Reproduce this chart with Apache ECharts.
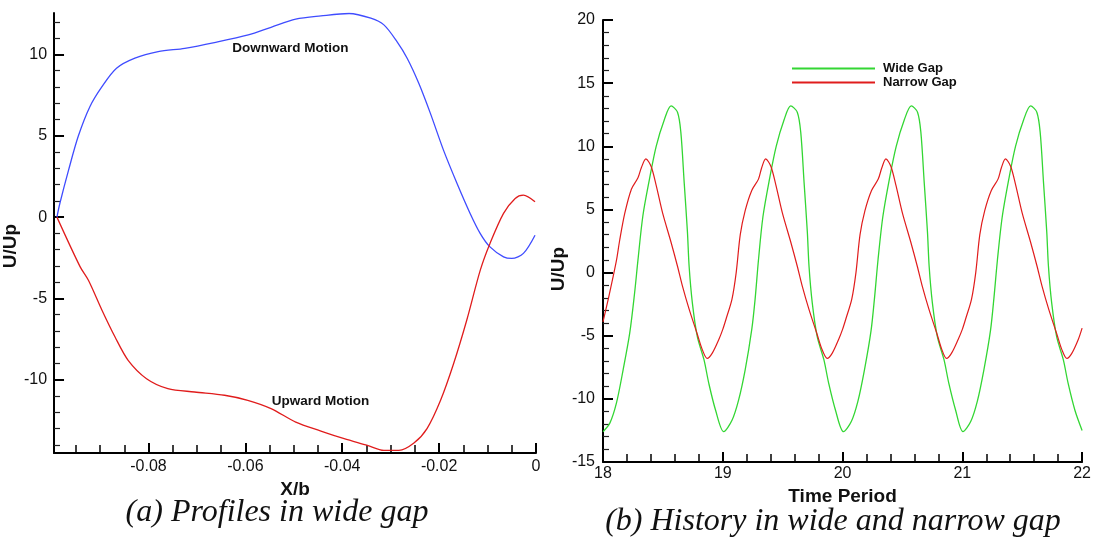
<!DOCTYPE html>
<html>
<head>
<meta charset="utf-8">
<script src="https://cdn.jsdelivr.net/npm/echarts@6/dist/echarts.min.js"></script>
<style>
  html, body { margin: 0; padding: 0; background: #ffffff; }
  #chart { width: 1094px; height: 538px; }
</style>
</head>
<body>
<div id="chart"></div>
<script>
// ---- (a) Profiles in wide gap: U/Up against X/b ----
const downwardMotion = [
  [-0.0989, 0], [-0.0983, 0.84], [-0.0965, 2.89], [-0.0945, 4.97], [-0.0921, 6.79],
  [-0.0896, 8.02], [-0.0866, 9.15], [-0.0828, 9.77], [-0.0780, 10.17], [-0.0725, 10.38],
  [-0.0664, 10.73], [-0.0594, 11.2], [-0.0547, 11.67], [-0.0496, 12.17], [-0.0444, 12.37],
  [-0.0386, 12.52], [-0.0341, 12.23], [-0.0314, 11.82], [-0.0287, 10.79], [-0.0266, 9.77],
  [-0.0242, 8.23], [-0.0218, 6.38], [-0.0191, 4.12], [-0.0163, 2.07], [-0.0136, 0.23],
  [-0.0115, -1.01], [-0.0095, -1.83], [-0.0067, -2.44], [-0.0050, -2.54], [-0.0026, -2.23],
  [-0.0002, -1.11]
];
const upwardMotion = [
  [-0.0989, 0], [-0.0941, -3.06], [-0.0924, -3.88], [-0.0896, -5.72], [-0.0869, -7.37],
  [-0.0842, -8.80], [-0.0804, -9.93], [-0.0760, -10.54], [-0.0705, -10.75], [-0.0643, -10.95],
  [-0.0595, -11.26], [-0.0547, -11.77], [-0.0496, -12.60], [-0.0444, -13.15], [-0.0396, -13.62],
  [-0.0348, -14.03], [-0.0314, -14.34], [-0.0283, -14.34], [-0.0252, -13.89], [-0.0225, -13.0],
  [-0.0197, -11.26], [-0.0170, -9.0], [-0.0143, -6.34], [-0.0115, -3.26], [-0.0095, -1.62],
  [-0.0067, 0.23], [-0.0043, 1.15], [-0.0026, 1.35], [-0.0002, 0.94]
];
const profileXRange = [-0.0995, 0];
const profileYRange = [-14.5, 12.55];
const profileXMajor = [-0.08, -0.06, -0.04, -0.02, 0];
const profileXMinor = [-0.095, -0.09, -0.085, -0.075, -0.07, -0.065, -0.055, -0.05, -0.045,
  -0.035, -0.03, -0.025, -0.015, -0.01, -0.005];
const profileYMajor = [-10, -5, 0, 5, 10];
const profileYMinor = [-14, -13, -12, -11, -9, -8, -7, -6, -4, -3, -2, -1, 1, 2, 3, 4,
  6, 7, 8, 9, 11, 12];
const profileNotes = [
  { text: 'Downward Motion', at: [-0.0507, 10.4] },
  { text: 'Upward Motion', at: [-0.0445, -11.32] }
];

// ---- (b) History in wide and narrow gap: U/Up against time period ----
const wideGap = [
  [18.000, -12.6], [18.058, -11.9], [18.113, -10.3], [18.168, -7.7], [18.223, -4.8],
  [18.264, -1.6], [18.292, 1.0], [18.333, 4.5], [18.388, 7.4], [18.444, 10.0],
  [18.512, 12.1], [18.568, 13.2], [18.622, 12.7], [18.650, 11.1], [18.678, 7.1],
  [18.705, 3.2], [18.719, 0.5], [18.746, -2.4], [18.788, -5.1], [18.843, -6.9],
  [18.884, -8.8], [18.940, -10.9],
  [19.008, -12.6], [19.077, -11.7], [19.132, -10.1], [19.187, -7.7], [19.242, -4.5],
  [19.270, -2.1], [19.298, 1.0], [19.335, 4.4], [19.390, 7.4], [19.446, 10.0],
  [19.512, 12.1], [19.567, 13.2], [19.622, 12.7], [19.651, 11.1], [19.679, 7.1],
  [19.706, 3.2], [19.720, 0.5], [19.747, -2.4], [19.789, -5.1], [19.844, -6.9],
  [19.885, -8.8], [19.941, -10.9],
  [20.008, -12.6], [20.073, -11.8], [20.128, -10.2], [20.183, -7.7], [20.238, -4.6],
  [20.268, -1.9], [20.296, 1.0], [20.336, 4.4], [20.391, 7.4], [20.448, 10.0],
  [20.516, 12.1], [20.574, 13.2], [20.626, 12.7], [20.654, 11.1], [20.682, 7.1],
  [20.709, 3.2], [20.723, 0.5], [20.750, -2.4], [20.792, -5.1], [20.847, -6.9],
  [20.888, -8.8], [20.944, -10.9],
  [21.005, -12.6], [21.070, -11.8], [21.125, -10.2], [21.180, -7.7], [21.235, -4.6],
  [21.265, -1.9], [21.293, 1.0], [21.333, 4.4], [21.388, 7.4], [21.444, 10.0],
  [21.512, 12.1], [21.570, 13.2], [21.622, 12.7], [21.650, 11.1], [21.678, 7.1],
  [21.705, 3.2], [21.719, 0.5], [21.746, -2.4], [21.788, -5.1], [21.843, -6.9],
  [21.884, -8.8], [21.940, -10.9], [22.000, -12.5]
];
const narrowGap = [
  [18.000, -3.9], [18.044, -2.1], [18.085, -0.3], [18.113, 1.0], [18.140, 2.6],
  [18.182, 4.7], [18.237, 6.6], [18.292, 7.5], [18.320, 8.3], [18.358, 9.0],
  [18.402, 8.4], [18.444, 6.9], [18.498, 4.7], [18.568, 2.4], [18.622, 0.5],
  [18.664, -1.1], [18.719, -2.9], [18.788, -4.9], [18.829, -6.1], [18.870, -6.8],
  [18.911, -6.4], [18.967, -5.3],
  [19.000, -4.5], [19.030, -3.6], [19.077, -2.1], [19.112, 0.0], [19.146, 3.0],
  [19.187, 4.9], [19.242, 6.5], [19.298, 7.4], [19.325, 8.3], [19.358, 9.0],
  [19.402, 8.4], [19.444, 6.9], [19.498, 4.7], [19.568, 2.4], [19.622, 0.5],
  [19.664, -1.1], [19.719, -2.9], [19.788, -4.9], [19.829, -6.1], [19.872, -6.8],
  [19.913, -6.4], [19.967, -5.3],
  [20.000, -4.5], [20.030, -3.6], [20.077, -2.1], [20.112, 0.0], [20.146, 3.0],
  [20.187, 4.9], [20.242, 6.5], [20.298, 7.4], [20.328, 8.3], [20.362, 9.0],
  [20.404, 8.4], [20.446, 6.9], [20.500, 4.7], [20.570, 2.4], [20.624, 0.5],
  [20.666, -1.1], [20.721, -2.9], [20.790, -4.9], [20.829, -6.1], [20.868, -6.8],
  [20.909, -6.4], [20.965, -5.3],
  [21.000, -4.5], [21.030, -3.6], [21.077, -2.1], [21.112, 0.0], [21.146, 3.0],
  [21.187, 4.9], [21.242, 6.5], [21.298, 7.4], [21.326, 8.3], [21.360, 9.0],
  [21.404, 8.4], [21.446, 6.9], [21.500, 4.7], [21.570, 2.4], [21.624, 0.5],
  [21.666, -1.1], [21.721, -2.9], [21.790, -4.9], [21.831, -6.1], [21.873, -6.8],
  [21.914, -6.4], [21.968, -5.3], [22.000, -4.4]
];
const historyXRange = [18, 22];
const historyYRange = [-15, 20];

const SANS = '"Liberation Sans", Arial, sans-serif';
const SERIF = '"Liberation Serif", "Times New Roman", serif';
const INK = '#111111';

const chart = echarts.init(document.getElementById('chart'), null, { renderer: 'canvas' });

const majorTick = { show: true, inside: true, length: 10, lineStyle: { color: '#000', width: 2 } };
const minorTickStyle = { color: '#222', width: 1.2 };
const minorTickStyleX = { color: '#000', width: 1.5 };
const axisLine = { show: true, onZero: false, lineStyle: { color: '#000', width: 2 } };
const hiddenLine = { show: false, onZero: false };
const labelStyle = { color: INK, fontFamily: SANS, fontSize: 16 };
const nameStyle = { color: INK, fontFamily: SANS, fontSize: 19, fontWeight: 'bold' };

chart.setOption({
  backgroundColor: '#ffffff',
  animation: false,
  grid: [
    { left: 52, top: 13, width: 484, height: 440 },
    { left: 603, top: 20, width: 484, height: 442 }
  ],
  legend: {
    data: ['Wide Gap', 'Narrow Gap'],
    orient: 'vertical',
    left: 787, top: 57,
    itemWidth: 83, itemHeight: 2, itemGap: 1,
    icon: 'rect',
    textStyle: { color: INK, fontFamily: SANS, fontSize: 13, fontWeight: 'bold', padding: [0, 0, 0, 3] }
  },
  xAxis: [
    {
      gridIndex: 0, type: 'value', position: 'bottom',
      min: profileXRange[0], max: profileXRange[1],
      axisLine: axisLine,
      axisTick: Object.assign({}, majorTick, { customValues: profileXMajor }),
      axisLabel: Object.assign({}, labelStyle, { customValues: profileXMajor, margin: 6 }),
      splitLine: { show: false },
      name: 'X/b', nameLocation: 'middle', nameGap: 23, nameTextStyle: nameStyle
    },
    {
      gridIndex: 0, type: 'value', position: 'bottom',
      min: profileXRange[0], max: profileXRange[1],
      axisLine: hiddenLine,
      axisTick: { show: true, inside: true, length: 8, customValues: profileXMinor, lineStyle: minorTickStyleX },
      axisLabel: { show: false },
      splitLine: { show: false }
    },
    {
      gridIndex: 1, type: 'value', position: 'bottom',
      min: historyXRange[0], max: historyXRange[1], interval: 1,
      axisLine: axisLine,
      axisTick: majorTick,
      minorTick: { show: true, splitNumber: 5, length: 8, lineStyle: minorTickStyleX },
      axisLabel: Object.assign({}, labelStyle, { margin: 4 }),
      splitLine: { show: false },
      name: 'Time Period', nameLocation: 'middle', nameGap: 20, nameTextStyle: nameStyle
    }
  ],
  yAxis: [
    {
      gridIndex: 0, type: 'value', position: 'left',
      min: profileYRange[0], max: profileYRange[1],
      axisLine: axisLine,
      axisTick: Object.assign({}, majorTick, { customValues: profileYMajor }),
      axisLabel: Object.assign({}, labelStyle, { customValues: profileYMajor, margin: 7 }),
      splitLine: { show: false },
      name: 'U/Up', nameLocation: 'middle', nameGap: 22, nameRotate: 90,
      nameTextStyle: Object.assign({}, nameStyle, { padding: [0, 26, 0, 0] })
    },
    {
      gridIndex: 0, type: 'value', position: 'left',
      min: profileYRange[0], max: profileYRange[1],
      axisLine: hiddenLine,
      axisTick: { show: true, inside: true, length: 6, customValues: profileYMinor, lineStyle: minorTickStyle },
      axisLabel: { show: false },
      splitLine: { show: false }
    },
    {
      gridIndex: 1, type: 'value', position: 'left',
      min: historyYRange[0], max: historyYRange[1], interval: 5,
      axisLine: axisLine,
      axisTick: majorTick,
      minorTick: { show: true, splitNumber: 5, length: 6, lineStyle: minorTickStyle },
      axisLabel: Object.assign({}, labelStyle, { margin: 8 }),
      splitLine: { show: false },
      name: 'U/Up', nameLocation: 'middle', nameGap: 5, nameRotate: 90,
      nameTextStyle: Object.assign({}, nameStyle, { padding: [0, 56, 0, 0] })
    }
  ],
  series: [
    {
      name: 'Downward Motion', type: 'line', xAxisIndex: 0, yAxisIndex: 0,
      data: downwardMotion, smooth: 0.3, showSymbol: false,
      lineStyle: { color: '#3f4cff', width: 1.3 }, itemStyle: { color: '#3f4cff' },
      markPoint: {
        symbolSize: 0,
        label: { show: true, position: 'inside', color: INK, fontFamily: SANS, fontSize: 13.5, fontWeight: 'bold', formatter: profileNotes[0].text },
        data: [{ coord: profileNotes[0].at }]
      }
    },
    {
      name: 'Upward Motion', type: 'line', xAxisIndex: 0, yAxisIndex: 0,
      data: upwardMotion, smooth: 0.3, showSymbol: false,
      lineStyle: { color: '#e01c1c', width: 1.3 }, itemStyle: { color: '#e01c1c' },
      markPoint: {
        symbolSize: 0,
        label: { show: true, position: 'inside', color: INK, fontFamily: SANS, fontSize: 13.5, fontWeight: 'bold', formatter: profileNotes[1].text },
        data: [{ coord: profileNotes[1].at }]
      }
    },
    {
      name: 'Wide Gap', type: 'line', xAxisIndex: 2, yAxisIndex: 2,
      data: wideGap, smooth: 0.3, showSymbol: false,
      lineStyle: { color: '#33d633', width: 1.3 }, itemStyle: { color: '#33d633' }
    },
    {
      name: 'Narrow Gap', type: 'line', xAxisIndex: 2, yAxisIndex: 2,
      data: narrowGap, smooth: 0.3, showSymbol: false,
      lineStyle: { color: '#e01c1c', width: 1.2 }, itemStyle: { color: '#e01c1c' }
    }
  ],
  graphic: [
    {
      type: 'text', x: 277, y: 513,
      style: { text: '(a) Profiles in wide gap', fill: INK, font: 'italic 32px ' + SERIF, align: 'center', verticalAlign: 'middle' }
    },
    {
      type: 'text', x: 833, y: 522,
      style: { text: '(b) History in wide and narrow gap', fill: INK, font: 'italic 32px ' + SERIF, align: 'center', verticalAlign: 'middle' }
    }
  ]
});
</script>
</body>
</html>
